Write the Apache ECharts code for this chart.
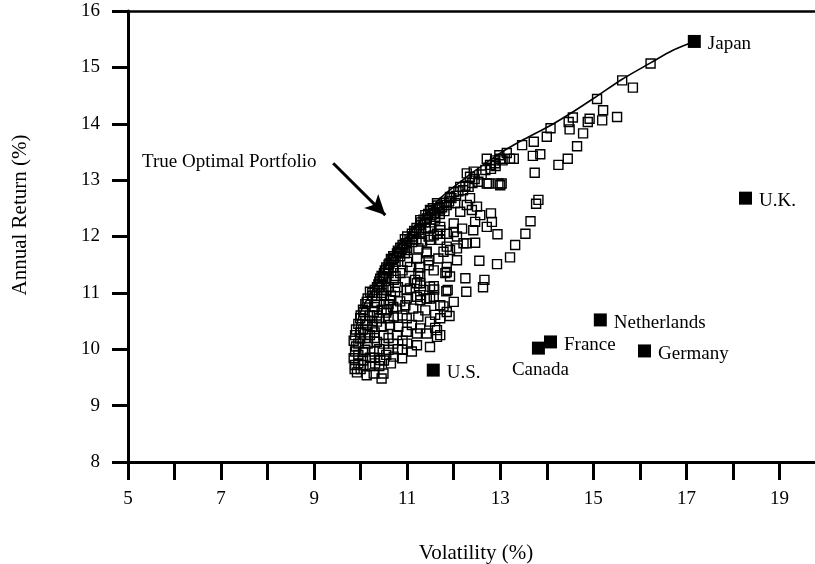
<!DOCTYPE html>
<html><head><meta charset="utf-8">
<script src="https://cdn.jsdelivr.net/npm/echarts@6/dist/echarts.min.js"></script>
<style>html,body{margin:0;padding:0;background:#fff}#c{width:815px;height:564px}</style>
</head><body><div id="c"></div>
<script>
// Simulated portfolios [volatility %, annual return %]
var portfolios = [
[16.23,15.07],[15.62,14.77],[15.85,14.64],[15.08,14.44],[15.21,14.24],[15.51,14.12],[15.19,14.06],[14.88,14.03],[14.92,14.09],[14.56,14.11],
[14.47,14.03],[14.49,13.90],[14.78,13.83],[14.08,13.92],[14.0,13.77],[13.72,13.68],[13.47,13.62],[14.65,13.6],[13.86,13.46],[13.7,13.43],
[14.45,13.38],[13.14,13.48],[14.25,13.27],[13.74,13.13],[13.29,13.38],[12.98,13.44],[12.89,13.3],[13.0,12.91],[12.75,12.94],[13.82,12.65],
[13.77,12.58],[13.65,12.27],[13.54,12.05],[13.32,11.85],[13.21,11.63],[12.93,11.51],[12.55,11.57],[12.8,12.41],[12.82,12.26],[12.94,12.04],
[12.46,11.89],[12.25,11.26],[12.66,11.23],[12.63,11.1],[11.87,11.05],[12.27,11.02],[12.0,10.84],[11.58,11.06],
[12.89,13.35],[12.78,13.27],[12.68,13.18],[12.43,13.15],[12.35,13.06],[12.71,12.94],[12.53,12.97],[12.32,12.88],[12.14,12.88],[12.0,12.79],
[11.92,12.7],[12.96,12.94],[13.21,13.38],[12.71,13.38],[13.0,13.38],[12.28,13.12],[13.03,12.94],
[12.57,12.38],[12.39,12.47],[12.28,12.56],[12.35,12.68],[12.14,12.44],[12.03,12.59],[12.0,12.23],[12.18,12.14],[12.0,12.08],[11.85,12.05],
[11.71,12.11],[11.57,12.02],[11.49,11.94],[11.71,11.94],[11.85,11.82],[12.07,11.79],[12.21,11.88],[11.78,11.73],[11.42,11.7],[12.07,11.58],
[11.46,11.49],[11.82,11.35],[11.92,11.29],[11.57,11.12],[11.28,11.17],[12.5,12.53],[12.46,12.26],[12.71,12.17],[12.42,12.11],[12.07,12.0],
[12.28,11.88],[11.64,12.05],[11.92,11.76],[11.67,11.61],[11.85,11.46],
[11.64,12.59],[11.49,12.47],[11.39,12.38],[11.28,12.29],[11.71,12.5],[11.6,12.35],[11.85,12.56],
[11.49,12.14],[11.71,12.17],[11.46,12.0],[11.32,11.91],[11.42,11.73],[11.46,11.58],[11.21,11.61],[10.99,11.76],[11.24,11.79],[11.06,11.46],
[11.24,11.35],[11.17,11.23],[11.49,11.11],[10.85,11.35],[10.71,11.23],[11.85,11.37],
[10.35,11.1],[10.4,11.2],[10.45,11.3],[10.5,11.35],[10.55,11.45],[10.6,11.5],[10.65,11.6],[10.7,11.65],[10.8,11.75],[10.85,11.8],
[10.9,11.85],[10.95,11.95],[11.0,12.0],[11.1,12.05],[11.15,12.1],[11.2,12.15],[11.3,12.25],[11.35,12.3],[11.45,12.4],[11.5,12.45],
[11.55,12.5],[11.65,12.55],[10.45,11.15],[10.55,11.25],[10.6,11.35],[10.7,11.45],[10.75,11.55],[10.85,11.65],[10.95,11.7],[11.0,11.8],
[11.1,11.9],[11.2,11.95],[11.3,12.05],[11.4,12.15],[11.5,12.25],[11.6,12.3],[11.7,12.4],[11.8,12.45],
[10.25,11.0],[10.3,11.05],[10.38,11.15],[10.42,11.25],[10.48,11.28],[10.52,11.4],[10.58,11.42],[10.62,11.52],[10.68,11.58],[10.72,11.62],
[10.78,11.7],[10.82,11.72],[10.88,11.78],[10.92,11.82],[10.98,11.88],[11.05,11.95],[11.12,12.0],[11.18,12.08],[11.25,12.12],[11.28,12.2],
[11.38,12.25],[11.42,12.32],[11.52,12.38],[11.58,12.42],[11.68,12.48],[11.75,12.52],[11.8,12.6],[11.9,12.62],[11.95,12.68],[12.05,12.72],
[12.1,12.8],[12.2,12.82],[12.25,12.9],[12.4,12.95],[12.45,13.02],[12.6,13.1],[12.8,13.2],[12.9,13.25],[13.05,13.35],
[11.57,11.4],[11.28,11.46],[11.28,11.29],[11.21,11.17],[10.99,11.05],[11.21,10.93],[10.96,10.78],[11.71,10.25],[11.64,10.34],[11.49,10.49],
[11.6,10.61],[11.91,10.59],[11.78,10.76],[11.57,10.93],[11.42,10.9],[11.84,11.03],
[10.13,9.54],[10.45,9.48],[9.92,9.59],[10.28,9.57],[10.49,9.57],[9.88,9.72],[10.06,9.72],[10.31,9.75],[10.42,9.81],[10.89,9.84],
[10.71,9.87],[9.85,9.84],[9.88,9.96],[10.1,9.99],[10.28,9.96],[10.6,9.99],[10.89,9.99],[11.21,10.07],[11.1,9.96],[9.88,10.25],
[9.99,10.19],[10.2,10.25],[10.35,10.13],[10.49,10.25],[10.78,10.25],[10.99,10.31],[11.28,10.37],[11.42,10.28],[11.64,10.22],[11.21,10.28],
[10.13,10.43],[10.35,10.49],[10.63,10.43],[10.81,10.4],[11.1,10.43],[10.99,10.55],[10.71,10.58],[9.99,10.55],[10.06,10.66],[10.28,10.66],
[10.56,10.69],[10.78,10.72],[11.13,10.72],[11.39,10.69],[11.24,10.58],[10.13,10.84],[10.35,10.84],[10.63,10.87],[10.99,10.9],[11.28,10.87],
[11.49,10.9],[11.71,10.78],[11.85,10.66],[10.2,11.02],[10.49,11.05],[10.74,11.02],[11.06,11.08],[11.35,11.05],[11.28,10.96],[11.71,10.55],
[11.6,10.38],[11.49,10.04],
[10.15,10.9],[10.1,10.8],[10.05,10.7],[10.0,10.6],[10.25,10.95],[10.3,10.75],[10.2,10.6],[10.1,10.5],[10.25,10.4],[10.4,10.55],
[9.9,10.35],[9.85,10.15],[9.9,10.05],[9.95,9.9],[9.95,9.75],[9.87,9.65],[10.0,9.65],[10.05,9.8],[10.2,9.85],[10.15,10.1],
[10.4,10.0],[10.5,10.1],[10.6,10.2],[10.7,10.1],[10.55,9.9],[10.8,10.0],[10.9,10.15],[11.0,10.1],[10.4,9.7],[10.2,9.7],
[9.95,10.45],[10.05,10.35],[10.3,10.3],[10.45,10.4],[10.6,10.55],[10.9,10.6],[10.5,10.8],[10.65,10.95],[10.85,10.85],[10.4,11.1],[10.6,11.1],
[10.35,10.95],[10.45,11.0],[10.55,11.05],[10.5,10.95],[10.6,10.8],[10.7,10.75],[10.55,10.65],[10.45,10.7],[10.35,10.6],[10.25,10.5],
[10.15,10.3],[10.3,10.2],[10.1,10.2],[10.0,10.3],[9.95,10.1],[10.05,9.95],[10.3,9.85],[10.5,9.8],[10.65,9.75],[10.75,11.3],
[10.9,11.4],[11.0,11.55],[10.8,11.1],[10.95,11.2]
];
// Efficient frontier ("True Optimal Portfolio")
var frontierVol = [9.88,9.92,10.02,10.15,10.3,10.5,10.75,11.05,11.4,11.71,12.3,13.0,13.5,14.08,14.6,15.08,15.62,16.23,16.7,17.17];
var frontierRet = [10.22,10.45,10.7,10.9,11.1,11.4,11.75,12.05,12.38,12.68,13.07,13.48,13.72,13.97,14.23,14.49,14.79,15.08,15.3,15.46];
// Individual countries
var countryNames = ['Japan','U.K.','Netherlands','France','Canada','Germany','U.S.'];
var countryVol = [17.17,18.27,15.15,14.08,13.82,16.10,11.56];
var countryRet = [15.46,12.68,10.52,10.13,10.02,9.97,9.63];
// Annotation arrow (data coords)
var arrowFrom = [9.41,13.30];
var arrowTo = [10.53,12.38];
var xTicks = [5,7,9,11,13,15,17,19];
var yTicks = [8,9,10,11,12,13,14,15,16];

var FONT = '"Liberation Serif", "Times New Roman", serif';
var chart = echarts.init(document.getElementById('c'), null, {renderer:'canvas'});
var frontier = frontierVol.map(function(v,i){return [v, frontierRet[i]];});
var countries = countryNames.map(function(n,i){
  var d = {name:n, value:[countryVol[i], countryRet[i]]};
  if (n === 'Canada') d.label = {position:'bottom', distance:6, offset:[2,0]};
  return d;
});
chart.setOption({
  animation:false,
  backgroundColor:'#fff',
  grid:{left:128, top:11, width:698, height:451, containLabel:false, outerBoundsMode:'none'},
  xAxis:[{
    type:'value', min:5, max:20, interval:1,
    axisLine:{show:true, onZero:false, lineStyle:{color:'#000', width:3}},
    axisTick:{show:true, length:18, lineStyle:{color:'#000', width:3}},
    axisLabel:{margin:28, color:'#000', fontFamily:FONT, fontSize:19,
      formatter:function(v){return xTicks.indexOf(v) >= 0 ? String(v) : '';}},
    splitLine:{show:false}
  },{
    type:'value', min:5, max:20, position:'top',
    axisLine:{show:true, onZero:false, lineStyle:{color:'#000', width:2.5}},
    axisTick:{show:false}, axisLabel:{show:false}, splitLine:{show:false}
  }],
  yAxis:{
    type:'value', min:8, max:16, interval:1,
    axisLine:{show:true, onZero:false, lineStyle:{color:'#000', width:3}},
    axisTick:{show:true, length:16, lineStyle:{color:'#000', width:3}},
    axisLabel:{margin:28, color:'#000', fontFamily:FONT, fontSize:19,
      formatter:function(v){return yTicks.indexOf(v) >= 0 ? String(v) : '';}},
    splitLine:{show:false}
  },
  series:[
    {type:'scatter', data:portfolios, symbol:'rect', symbolSize:9,
     itemStyle:{color:'rgba(255,255,255,0)', borderColor:'#000', borderWidth:1.4, opacity:1}, z:2},
    {type:'line', data:frontier, smooth:0.3, symbol:'none',
     lineStyle:{color:'#000', width:1.6}, z:3,
     markLine:{silent:true, symbol:['none','arrow'], symbolSize:[15,20],
       lineStyle:{color:'#000', width:3, type:'solid'}, label:{show:false},
       data:[[{coord:arrowFrom},{coord:arrowTo}]]}},
    {type:'scatter', data:countries, symbol:'rect', symbolSize:13,
     itemStyle:{color:'#000', opacity:1}, z:4,
     label:{show:true, position:'right', distance:7, offset:[0,3], formatter:'{b}',
       color:'#000', fontFamily:FONT, fontSize:19}}
  ],
  graphic:[
    {type:'text', x:142, y:162, style:{text:'True Optimal Portfolio', font:'19px '+FONT, fill:'#000', align:'left', verticalAlign:'middle'}},
    {type:'text', x:476, y:553, style:{text:'Volatility (%)', font:'21px '+FONT, fill:'#000', align:'center', verticalAlign:'middle'}},
    {type:'text', x:20, y:215, rotation:Math.PI/2, style:{text:'Annual Return (%)', font:'21px '+FONT, fill:'#000', align:'center', verticalAlign:'middle'}}
  ]
});
</script></body></html>
